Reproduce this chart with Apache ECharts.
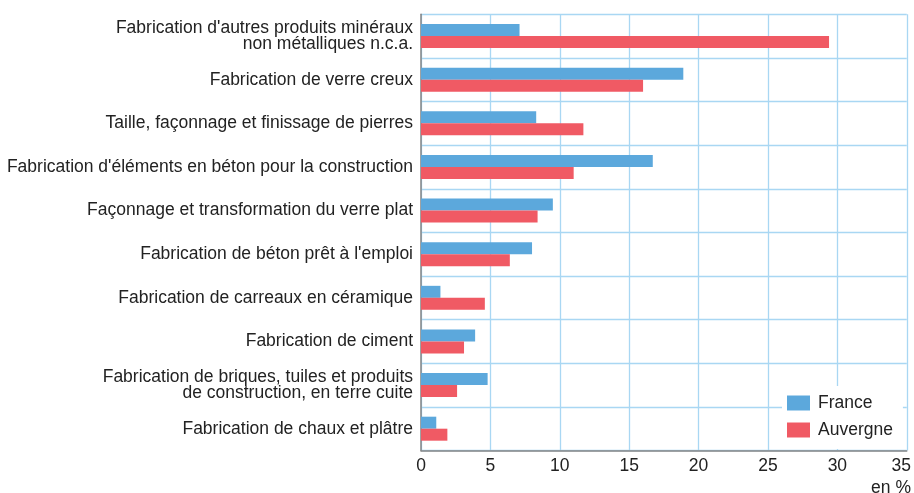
<!DOCTYPE html>
<html>
<head>
<meta charset="utf-8">
<script src="https://cdn.jsdelivr.net/npm/echarts@6/dist/echarts.min.js"></script>
<style>
  html, body { margin: 0; padding: 0; background: #fff; }
  #chart { width: 914px; height: 493px; }
</style>
</head>
<body>
<div id="chart"></div>
<script>
// Activity labels, top to bottom
const categories = [
  "Fabrication d'autres produits minéraux\nnon métalliques n.c.a.",
  "Fabrication de verre creux",
  "Taille, façonnage et finissage de pierres",
  "Fabrication d'éléments en béton pour la construction",
  "Façonnage et transformation du verre plat",
  "Fabrication de béton prêt à l'emploi",
  "Fabrication de carreaux en céramique",
  "Fabrication de ciment",
  "Fabrication de briques, tuiles et produits\nde construction, en terre cuite",
  "Fabrication de chaux et plâtre"
];

// Shares in %
const france   = [7.1, 18.9, 8.3, 16.7, 9.5, 8.0, 1.4, 3.9, 4.8, 1.1];
const auvergne = [29.4, 16.0, 11.7, 11.0, 8.4, 6.4, 4.6, 3.1, 2.6, 1.9];

const seriesNames = ['France', 'Auvergne'];
const xTicks = { min: 0, max: 35, step: 5 };
const unitLabel = 'en %';

const FONT = '"Liberation Sans", Arial, sans-serif';
const TEXT = '#222';
const GRID_COLOR = '#a9d7f3';
const AXIS_COLOR = '#858585';

const chart = echarts.init(document.getElementById('chart'), null, { renderer: 'canvas' });

chart.setOption({
  animation: false,
  backgroundColor: '#fff',
  textStyle: { fontFamily: FONT },
  grid: { left: 421, right: 5.5, top: 14.3, bottom: 42.5, containLabel: false },
  legend: {
    data: seriesNames,
    orient: 'vertical',
    left: 782,
    top: 386,
    padding: [8, 10, 10, 5],
    backgroundColor: '#fff',
    icon: 'rect',
    itemWidth: 23,
    itemHeight: 15,
    itemGap: 9,
    textStyle: { fontSize: 17.5, color: TEXT, fontFamily: FONT, padding: [0, 0, 0, 3] },
    z: 10
  },
  xAxis: {
    type: 'value',
    min: xTicks.min,
    max: xTicks.max,
    interval: xTicks.step,
    axisLine: { show: true, lineStyle: { color: AXIS_COLOR, width: 1.5 } },
    axisTick: { show: false },
    splitLine: { show: true, lineStyle: { color: GRID_COLOR, width: 1.3 } },
    axisLabel: {
      color: TEXT,
      fontSize: 17.5,
      fontFamily: FONT,
      margin: 7,
      formatter: function (v) {
        return v === xTicks.max ? '{last|' + v + '}' : String(v);
      },
      rich: {
        last: { color: TEXT, fontSize: 17.5, fontFamily: FONT, padding: [0, 11, 0, 0] }
      }
    }
  },
  yAxis: {
    type: 'category',
    data: categories,
    inverse: true,
    axisLine: { show: true, lineStyle: { color: AXIS_COLOR, width: 1.5 } },
    axisTick: { show: false },
    splitLine: { show: true, lineStyle: { color: GRID_COLOR, width: 1.3 } },
    axisLabel: {
      color: TEXT,
      fontSize: 17.5,
      fontFamily: FONT,
      margin: 8,
      lineHeight: 16,
      align: 'right'
    }
  },
  graphic: [{
    type: 'text',
    right: 3,
    top: 479,
    style: { text: unitLabel, fill: TEXT, font: '17.5px ' + FONT }
  }],
  series: [
    {
      name: seriesNames[0],
      type: 'bar',
      data: france,
      barWidth: 12,
      barGap: '0%',
      itemStyle: { color: '#5ca8dc' }
    },
    {
      name: seriesNames[1],
      type: 'bar',
      data: auvergne,
      barWidth: 12,
      barGap: '0%',
      itemStyle: { color: '#f05a64' }
    }
  ]
});
</script>
</body>
</html>
